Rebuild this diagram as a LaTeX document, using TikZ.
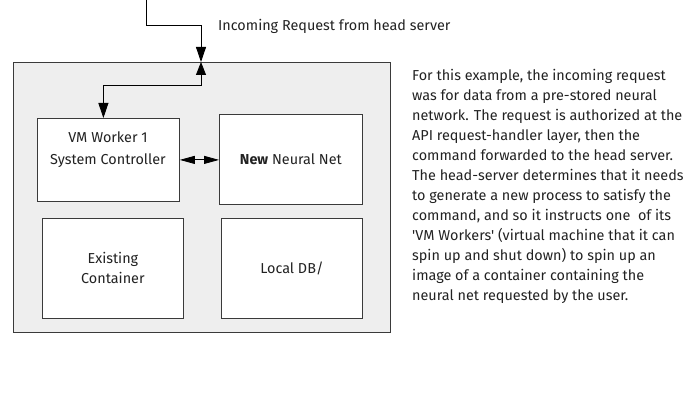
\documentclass[tikz,border=0pt]{standalone}
\usepackage{fontspec}
\newfontfamily\cf{Fira Sans}
\usetikzlibrary{arrows.meta}
\definecolor{panel}{HTML}{EEEEEE}
\definecolor{edge}{HTML}{3A3A3A}
\definecolor{ink}{HTML}{222222}
\tikzset{
  panelbox/.style={draw=edge, fill=panel, line width=0.8pt, inner sep=0pt, anchor=north west},
  cbox/.style={draw=edge, fill=white, line width=0.8pt, inner sep=0pt, anchor=north west},
  txt/.style={text=ink, font=\cf\fontsize{14.4}{17}\selectfont, inner sep=0pt, align=center},
  conn/.style={draw=black, line width=0.8pt},
}
\begin{document}
\begin{tikzpicture}[x=1pt,y=1pt]
\useasboundingbox (0,0) rectangle (690,-406);
% outer panel
\node[panelbox, minimum width=377pt, minimum height=270pt] (outer) at (13,-62) {};
% inner boxes
\node[cbox, minimum width=142pt, minimum height=83pt] (vm) at (37,-118) {};
\node[cbox, minimum width=143pt, minimum height=90pt] (nn) at (219,-114) {};
\node[cbox, minimum width=141pt, minimum height=100pt] (ec) at (42,-218) {};
\node[cbox, minimum width=141pt, minimum height=100pt] (db) at (221,-218) {};
% texts
\node[txt] (vmtext) at (108,-150) {VM Worker 1\\[5pt]System Controller};
\node[txt] (nntext) at (nn.center) {\textbf{New} Neural Net};
\node[txt] (ectext) at (ec.center) {Existing\\[3pt]Container};
\node[txt] (dbtext) at (db.center) {Local DB/};
\node[txt, anchor=west] (inlabel) at (218,-26) {Incoming Request from head server};
\node[txt, anchor=north west, align=left, font=\cf\fontsize{14.4}{20}\selectfont] (para) at (412,-69) {%
For this example, the incoming request\\
was for data from a pre-stored neural\\
network. The request is authorized at the\\
API request-handler layer, then the\\
command forwarded to the head server.\\
The head-server determines that it needs\\
to generate a new process to satisfy the\\
command, and so it instructs one\ \ of its\\
'VM Workers' (virtual machine that it can\\
spin up and shut down) to spin up an\\
image of a container containing the\\
neural net requested by the user.};
% connectors
\coordinate (src) at (146,0);
\coordinate (entry) at (201,-62);
\draw[conn, -{Triangle[length=15pt,width=10pt]}] (src) |- (201,-25) -- (entry);
\draw[conn, {Triangle[length=13pt,width=10pt]}-{Triangle[length=15pt,width=10pt]}] (entry) -- (201,-85) -| ([xshift=-5pt]vm.north);
\draw[conn, {Triangle[length=15pt,width=8pt]}-{Triangle[length=15pt,width=8pt]}] (vm.east) -- (vm.east -| nn.west);
\end{tikzpicture}
\end{document}
